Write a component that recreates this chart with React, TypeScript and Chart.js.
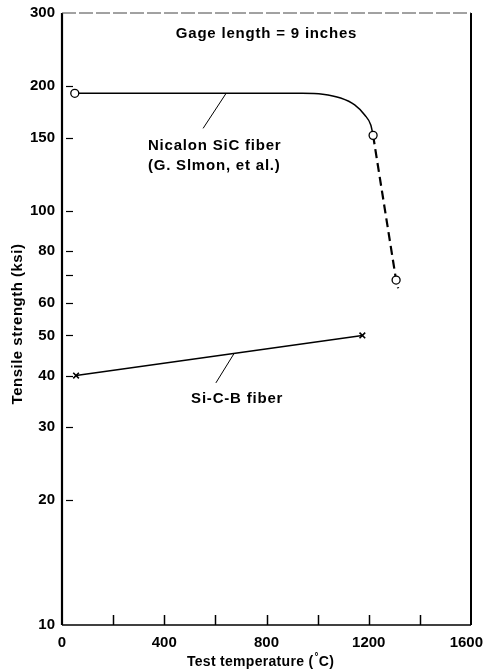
import React, { useEffect, useRef } from 'react';
import { Chart, registerables } from 'chart.js';

Chart.register(...registerables);

const FONT = "'Liberation Sans', Arial, Helvetica, sans-serif";

// Axis ticks
const xTickValues = [0, 200, 400, 600, 800, 1000, 1200, 1400, 1600];
const xTickLabels = ['0', '', '400', '', '800', '', '1200', '', '1600'];
const yTickValues = [10, 20, 30, 40, 50, 60, 70, 80, 100, 150, 200, 300];
const yTickLabels = ['10', '20', '30', '40', '50', '60', '', '80', '100', '150', '200', '300'];

// Nicalon SiC fiber (solid part, test temperature °C vs tensile strength ksi)
const nicalonTemp = [50, 940, 1020, 1090, 1145, 1185, 1208, 1217];
const nicalonStrength = [192, 192, 191, 187, 180, 170, 161, 152];
// Nicalon SiC fiber (dashed part)
const nicalonDashTemp = [1217, 1307, 1315];
const nicalonDashStrength = [152, 68, 65];
// Si-C-B fiber
const sicbTemp = [55, 1175];
const sicbStrength = [40, 50];

// Annotation anchors (data coordinates)
const gageLabel = { t: 800, s: 267, text: 'Gage length = 9 inches' };
const nicalonLabel = { t: 336, s1: 143, s2: 128, line1: 'Nicalon SiC fiber', line2: '(G. Slmon, et al.)' };
const nicalonLeader = { t1: 642, s1: 192, t2: 552, s2: 158 };
const sicbLabel = { t: 505, s: 35.2, text: 'Si-C-B fiber' };
const sicbLeader = { t1: 673, s1: 45.2, t2: 602, s2: 38.4 };

const overlay = {
  id: 'overlay',
  afterDraw(chart: any) {
    const { ctx, chartArea: a, scales } = chart;
    const xs = scales.x;
    const ys = scales.y;
    const px = (v: number) => xs.getPixelForValue(v);
    const py = (v: number) => ys.getPixelForValue(v);
    ctx.save();
    ctx.strokeStyle = '#000';
    ctx.fillStyle = '#000';
    ctx.lineCap = 'butt';

    // frame
    ctx.setLineDash([]);
    ctx.lineWidth = 2.2;
    ctx.beginPath();
    ctx.moveTo(a.left, a.top);
    ctx.lineTo(a.left, a.bottom);
    ctx.stroke();
    ctx.lineWidth = 1.6;
    ctx.beginPath();
    ctx.moveTo(a.left, a.bottom);
    ctx.lineTo(a.right, a.bottom);
    ctx.stroke();
    ctx.lineWidth = 2;
    ctx.beginPath();
    ctx.moveTo(a.right, a.top);
    ctx.lineTo(a.right, a.bottom);
    ctx.stroke();
    ctx.lineWidth = 1;
    ctx.strokeStyle = '#444';
    ctx.setLineDash([14, 3]);
    ctx.beginPath();
    ctx.moveTo(a.left, a.top);
    ctx.lineTo(a.right, a.top);
    ctx.stroke();
    ctx.setLineDash([]);
    ctx.strokeStyle = '#000';

    // x tick marks (inside, upward)
    ctx.lineWidth = 1.5;
    xTickValues.forEach((v) => {
      if (v === 0 || v === 1600) return;
      const x = Math.round(px(v)) + 0.5;
      ctx.beginPath();
      ctx.moveTo(x, a.bottom);
      ctx.lineTo(x, a.bottom - 10);
      ctx.stroke();
    });
    // x tick labels
    ctx.font = `bold 15px ${FONT}`;
    ctx.textAlign = 'center';
    ctx.textBaseline = 'middle';
    xTickValues.forEach((v, i) => {
      const lbl = xTickLabels[i];
      if (!lbl) return;
      const w = ctx.measureText(lbl).width;
      const cx = Math.min(px(v), chart.width - 2 - w / 2);
      ctx.fillText(lbl, cx, a.bottom + 18);
    });

    // y tick marks (short inner dashes)
    ctx.lineWidth = 1.2;
    yTickValues.forEach((v) => {
      if (v === 10 || v === 300) return;
      const y = Math.round(py(v)) + 0.5;
      ctx.beginPath();
      ctx.moveTo(a.left + 4, y);
      ctx.lineTo(a.left + 11, y);
      ctx.stroke();
    });

    // annotations
    ctx.font = `bold 15px ${FONT}`;
    (ctx as any).letterSpacing = '0.8px';
    ctx.textBaseline = 'middle';
    ctx.textAlign = 'center';
    ctx.fillText(gageLabel.text, px(gageLabel.t), py(gageLabel.s));
    ctx.textAlign = 'left';
    ctx.fillText(nicalonLabel.line1, px(nicalonLabel.t), py(nicalonLabel.s1));
    ctx.fillText(nicalonLabel.line2, px(nicalonLabel.t), py(nicalonLabel.s2));
    ctx.fillText(sicbLabel.text, px(sicbLabel.t), py(sicbLabel.s));

    ctx.lineWidth = 1;
    ctx.beginPath();
    ctx.moveTo(px(nicalonLeader.t1), py(nicalonLeader.s1));
    ctx.lineTo(px(nicalonLeader.t2), py(nicalonLeader.s2));
    ctx.stroke();
    ctx.beginPath();
    ctx.moveTo(px(sicbLeader.t1), py(sicbLeader.s1));
    ctx.lineTo(px(sicbLeader.t2), py(sicbLeader.s2));
    ctx.stroke();

    // y axis title
    ctx.save();
    ctx.translate(18, (a.top + a.bottom) / 2 + 5);
    ctx.rotate(-Math.PI / 2);
    ctx.textAlign = 'center';
    (ctx as any).letterSpacing = '0.5px';
    ctx.fillText('Tensile strength (ksi)', 0, 0);
    ctx.restore();

    // x axis title with superscript degree
    (ctx as any).letterSpacing = '0.3px';
    const bigFont = `bold 14px ${FONT}`;
    const smallFont = `bold 10px ${FONT}`;
    const p1 = 'Test temperature (';
    const p2 = '°';
    const p3 = 'C)';
    ctx.font = bigFont;
    const w1 = ctx.measureText(p1).width;
    const w3 = ctx.measureText(p3).width;
    ctx.font = smallFont;
    const w2 = ctx.measureText(p2).width + 1;
    const total = w1 + w2 + w3;
    let sx = (a.left + a.right) / 2 - 6 - total / 2;
    const ty = 662;
    ctx.textAlign = 'left';
    ctx.font = bigFont;
    ctx.fillText(p1, sx, ty);
    sx += w1;
    ctx.font = smallFont;
    ctx.fillText(p2, sx + 1, ty - 5);
    sx += w2;
    ctx.font = bigFont;
    ctx.fillText(p3, sx, ty);

    ctx.restore();
  },
};

export default function App() {
  const ref = useRef<HTMLCanvasElement>(null);

  useEffect(() => {
    if (!ref.current) return;
    const tickFont = { family: FONT, size: 15, weight: 'bold' as const };
    const chart = new Chart(ref.current, {
      type: 'line',
      data: {
        datasets: [
          {
            label: 'Nicalon SiC fiber',
            data: nicalonTemp.map((t, i) => ({ x: t, y: nicalonStrength[i] })),
            borderColor: '#000',
            borderWidth: 1.5,
            cubicInterpolationMode: 'monotone',
            pointRadius: nicalonTemp.map((_, i) => (i === 0 || i === nicalonTemp.length - 1 ? 4 : 0)),
            pointStyle: 'circle',
            pointBackgroundColor: '#fff',
            pointBorderColor: '#000',
            pointBorderWidth: 1.3,
            fill: false,
          },
          {
            label: 'Nicalon SiC fiber (dashed)',
            data: nicalonDashTemp.map((t, i) => ({ x: t, y: nicalonDashStrength[i] })),
            borderColor: '#000',
            borderWidth: 2.2,
            borderDash: [9, 5],
            tension: 0,
            pointRadius: [0, 4, 0],
            pointStyle: 'circle',
            pointBackgroundColor: '#fff',
            pointBorderColor: '#000',
            pointBorderWidth: 1.3,
            fill: false,
          },
          {
            label: 'Si-C-B fiber',
            data: sicbTemp.map((t, i) => ({ x: t, y: sicbStrength[i] })),
            borderColor: '#000',
            borderWidth: 1.5,
            tension: 0,
            pointStyle: 'crossRot',
            pointRadius: 4,
            pointBorderWidth: 1.6,
            pointBorderColor: '#000',
            pointBackgroundColor: '#000',
            fill: false,
          },
        ],
      },
      options: {
        animation: false,
        responsive: true,
        maintainAspectRatio: false,
        events: [],
        layout: { padding: { top: 13, right: 14, left: 0, bottom: 0 } },
        plugins: { legend: { display: false }, tooltip: { enabled: false } },
        scales: {
          x: {
            type: 'linear',
            min: 0,
            max: 1600,
            grid: { display: false, drawTicks: false },
            border: { display: false },
            afterBuildTicks: (s: any) => {
              s.ticks = xTickValues.map((v) => ({ value: v }));
            },
            afterFit: (s: any) => {
              s.height = 46;
              s.paddingLeft = 0;
              s.paddingRight = 0;
            },
            ticks: {
              display: false,
              autoSkip: false,
              maxRotation: 0,
              minRotation: 0,
              callback: (_v: any, i: number) => xTickLabels[i],
            },
          },
          y: {
            type: 'logarithmic',
            min: 10,
            max: 300,
            grid: { display: false, drawTicks: false },
            border: { display: false },
            afterBuildTicks: (s: any) => {
              s.ticks = yTickValues.map((v) => ({ value: v }));
            },
            afterFit: (s: any) => {
              s.width = 62;
              s.paddingTop = 0;
              s.paddingBottom = 0;
            },
            ticks: {
              autoSkip: false,
              padding: 7,
              color: '#000',
              font: tickFont,
              callback: (_v: any, i: number) => yTickLabels[i],
            },
          },
        },
      },
      plugins: [overlay],
    } as any);
    return () => chart.destroy();
  }, []);

  return (
    <div style={{ position: 'fixed', left: 0, top: 0, width: 485, height: 671, background: '#fff' }}>
      <canvas ref={ref} />
    </div>
  );
}
